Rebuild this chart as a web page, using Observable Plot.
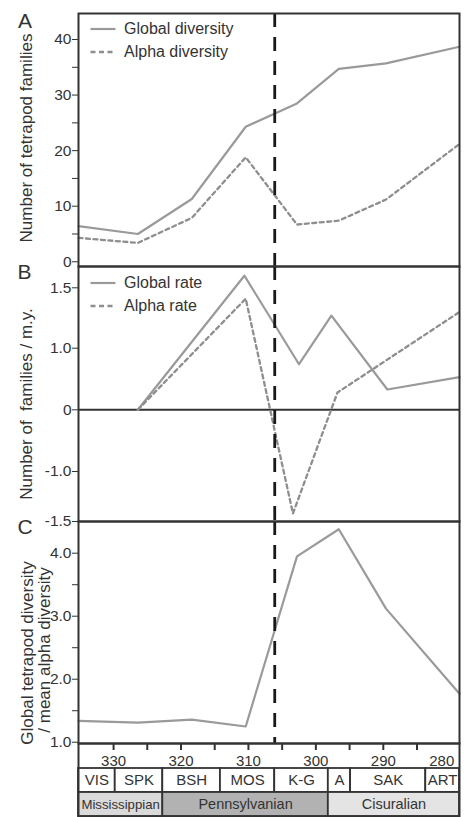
<!DOCTYPE html>
<html>
<head>
<meta charset="utf-8">
<script src="https://cdn.jsdelivr.net/npm/d3@7"></script>
<script src="https://cdn.jsdelivr.net/npm/@observablehq/plot@0.6"></script>
<style>
  html, body { margin: 0; padding: 0; background: #fff; }
  #root { position: relative; width: 468px; height: 817px; overflow: hidden; background: #fff;
          font-family: "Liberation Sans", Arial, Helvetica, sans-serif; color: #333; }
  #root svg { position: absolute; left: 0; }
  .t { position: absolute; white-space: pre; line-height: 1; color: #333; }
</style>
</head>
<body>
<div id="root"></div>
<script>
// ---------------- data ----------------
const ageA = [335.2, 326.4, 318.4, 310.4, 302.8, 296.6, 289.6, 278.7];
const globalDiversity = [6.4, 5.0, 11.3, 24.3, 28.5, 34.7, 35.7, 38.7];
const alphaDiversity = [4.3, 3.4, 7.9, 18.8, 6.7, 7.4, 11.2, 21.2];

const globalRateAge = [326.4, 310.6, 302.5, 297.7, 289.4, 278.7];
const globalRate = [0, 1.60, 0.74, 1.27, 0.33, 0.53];
const alphaRateAge = [326.4, 310.4, 303.4, 296.8, 278.7];
const alphaRate = [0, 1.41, -1.42, 0.28, 1.30];

const diversityRatio = [1.34, 1.31, 1.36, 1.25, 3.95, 4.38, 3.12, 1.77];

const boundaryAge = 306.1;

const stageNames = ["VIS", "SPK", "BSH", "MOS", "K-G", "A", "SAK", "ART"];
const stageStart = [335.2, 329.75, 322.7, 314.15, 306.1, 298.15, 294.85, 283.7];
const stageEnd = [329.75, 322.7, 314.15, 306.1, 298.15, 294.85, 283.7, 278.7];

const epochNames = ["Mississippian", "Pennsylvanian", "Cisuralian"];
const epochStart = [335.2, 322.7, 298.15];
const epochEnd = [322.7, 298.15, 278.7];

const ageTicks = [330, 320, 310, 300, 290, 280];
const ageMinorTicks = [330, 325, 320, 315, 310, 305, 300, 295, 290, 285];

const ticksA = [0, 10, 20, 30, 40];
const minorA = [5, 15, 25, 35];
const ticksB = [1.5, 1.0, 0, -1.0, -1.5];
const ticksC = [1, 2, 3, 4];
const minorC = [1.5, 2.5, 3.5];

// ---------------- layout ----------------
const W = 468, ML = 78, MR = 9;
const xDomain = [335.2, 278.7];
const FONT = '"Liberation Sans", Arial, Helvetica, sans-serif';
const baseStyle = { fontFamily: FONT, fontSize: "15.5px", color: "#333", background: "transparent", overflow: "visible" };
const GREY = "#9a9a9a", GREY_D = "#8e8e8e", INK = "#333";
const fmtHyphen = d => d === 0 ? "0" : (d < 0 ? "-" : "") + Math.abs(d).toFixed(1);

// panel B's printed axis is not uniform: map its labelled values to its drawn positions
const bAxisWarp = d3.scaleLinear()
  .domain([-1.5, -1, 0, 1, 1.5, 1.676])
  .range([255, 205, 143.3, 81.7, 21.3, 0]);

const root = document.getElementById("root");
function place(svg, top) { svg.style.top = top + "px"; root.append(svg); }

const rowsA = ageA.map((a, i) => ({ age: a, global: globalDiversity[i], alpha: alphaDiversity[i], ratio: diversityRatio[i] }));
const rowsGR = globalRateAge.map((a, i) => ({ age: a, v: globalRate[i] }));
const rowsAR = alphaRateAge.map((a, i) => ({ age: a, v: alphaRate[i] }));
const stageRows = stageNames.map((n, i) => ({ name: n, start: stageStart[i], end: stageEnd[i] }));
const epochRows = epochNames.map((n, i) => ({ name: n, start: epochStart[i], end: epochEnd[i] }));

const boundaryMark = () => Plot.ruleX([boundaryAge], { stroke: "#1a1a1a", strokeWidth: 2.8, strokeDasharray: "14,10" });
const frameMark = () => Plot.frame({ stroke: INK, strokeWidth: 2 });

// Panel A
const plotA = Plot.plot({
  width: W, height: 266, marginLeft: ML, marginRight: MR, marginTop: 13, marginBottom: 0,
  style: baseStyle,
  x: { domain: xDomain, axis: null },
  y: { domain: [-0.85, 44.68] },
  marks: [
    Plot.axisY({ ticks: minorA, tickSize: 6, tickFormat: () => "", label: null }),
    Plot.axisY({ ticks: ticksA, tickSize: 6, tickPadding: 1, tickFormat: d => String(d), label: null }),
    Plot.line(rowsA, { x: "age", y: "global", stroke: GREY, strokeWidth: 2.2 }),
    Plot.line(rowsA, { x: "age", y: "alpha", stroke: GREY_D, strokeWidth: 2.3, strokeDasharray: "4,3.5" }),
    boundaryMark(),
    frameMark()
  ]
});
place(plotA, 0);

// Panel B (axis marks are not passed through the scale transform, so warp their tick values here)
const plotB = Plot.plot({
  width: W, height: 255, marginLeft: ML, marginRight: MR, marginTop: 0, marginBottom: 0,
  style: baseStyle,
  x: { domain: xDomain, axis: null },
  y: { transform: bAxisWarp, domain: [255, 0] },
  marks: [
    Plot.axisY({ ticks: ticksB.map(bAxisWarp), tickSize: 6, tickPadding: 1,
                 tickFormat: p => fmtHyphen(Math.round(bAxisWarp.invert(p) * 10) / 10), label: null }),
    Plot.ruleY([0], { stroke: INK, strokeWidth: 2 }),
    Plot.line(rowsGR, { x: "age", y: "v", stroke: GREY, strokeWidth: 2.2 }),
    Plot.line(rowsAR, { x: "age", y: "v", stroke: GREY_D, strokeWidth: 2.3, strokeDasharray: "4,3.5" }),
    boundaryMark(),
    frameMark()
  ]
});
place(plotB, 266);

// Panel C
const plotC = Plot.plot({
  width: W, height: 222, marginLeft: ML, marginRight: MR, marginTop: 0, marginBottom: 0,
  style: baseStyle,
  x: { domain: xDomain, axis: null },
  y: { domain: [0.98, 4.503] },
  marks: [
    Plot.axisY({ ticks: minorC, tickSize: 6, tickFormat: () => "", label: null }),
    Plot.axisY({ ticks: ticksC, tickSize: 6, tickPadding: 1, tickFormat: d => d.toFixed(1), label: null }),
    Plot.line(rowsA, { x: "age", y: "ratio", stroke: GREY, strokeWidth: 2.2 }),
    boundaryMark(),
    frameMark()
  ]
});
place(plotC, 521);

// Time scale
const plotT = Plot.plot({
  width: W, height: 73, marginLeft: ML, marginRight: MR, marginTop: 0, marginBottom: 0,
  style: baseStyle,
  x: { domain: xDomain, axis: null },
  y: { type: "band", domain: ["age", "stage", "epoch"], padding: 0, axis: null },
  color: { domain: epochNames, range: ["#dadada", "#b2b2b2", "#e4e4e4"] },
  marks: [
    Plot.barX(stageRows, { x1: "start", x2: "end", y: () => "stage", fill: "white", stroke: INK, strokeWidth: 1.8 }),
    Plot.barX(epochRows, { x1: "start", x2: "end", y: () => "epoch", fill: "name", stroke: INK, strokeWidth: 1.8 }),
    Plot.tickX(ageMinorTicks, { x: d => d, y: () => "age", insetBottom: 18, stroke: INK, strokeWidth: 2 }),
    Plot.text(ageTicks, { filter: d => d !== 280, x: d => d, y: () => "age", text: d => String(d), dy: 5, fontSize: 15, fill: INK }),
    Plot.text(ageTicks, { filter: d => d === 280, x: d => d, y: () => "age", text: d => String(d), dy: 5, dx: -9, fontSize: 15, fill: INK }),
    Plot.text(stageRows, { x: d => (d.start + d.end) / 2, y: () => "stage", text: "name", fontSize: 15, fill: INK }),
    Plot.text(epochRows, { x: d => (d.start + d.end) / 2, y: () => "epoch", text: "name", fontSize: d => d.name === "Mississippian" ? 13.2 : 14.5, fill: INK }),
    frameMark()
  ]
});
place(plotT, 743);

// ---------------- text overlays ----------------
function addText(txt, cx, cy, size, rot = 0) {
  const d = document.createElement("div");
  d.className = "t";
  d.textContent = txt;
  d.style.left = cx + "px";
  d.style.top = cy + "px";
  d.style.fontSize = size + "px";
  d.style.transform = `translate(-50%,-50%) rotate(${rot}deg)`;
  root.append(d);
}
addText("A", 25, 19.5, 21);
addText("B", 24.5, 270.5, 21);
addText("C", 25, 525.5, 21);
addText("Number of tetrapod families", 26, 138, 17, -90);
addText("Number of  families / m.y.", 26, 404, 17, -90);
addText("Global tetrapod diversity", 26.5, 653, 17, -90);
addText("/ mean alpha diversity", 43.5, 650, 17, -90);

// legends
function addLegend(label, y, dashed) {
  const ns = "http://www.w3.org/2000/svg";
  const s = document.createElementNS(ns, "svg");
  s.setAttribute("width", 26); s.setAttribute("height", 6);
  s.style.cssText = `position:absolute;left:90px;top:${y - 3}px;`;
  const l = document.createElementNS(ns, "line");
  l.setAttribute("x1", 0.5); l.setAttribute("x2", 25.5); l.setAttribute("y1", 3); l.setAttribute("y2", 3);
  l.setAttribute("stroke", dashed ? GREY_D : GREY);
  l.setAttribute("stroke-width", dashed ? 2.3 : 2.2);
  if (dashed) l.setAttribute("stroke-dasharray", "5,3.5");
  s.append(l);
  root.append(s);
  const d = document.createElement("div");
  d.className = "t";
  d.textContent = label;
  d.style.cssText += `left:124px;top:${y}px;font-size:16px;transform:translateY(-50%);`;
  root.append(d);
}
addLegend("Global diversity", 28.5, false);
addLegend("Alpha diversity", 51.5, true);
addLegend("Global rate", 282.5, false);
addLegend("Alpha rate", 306, true);
</script>
</body>
</html>
